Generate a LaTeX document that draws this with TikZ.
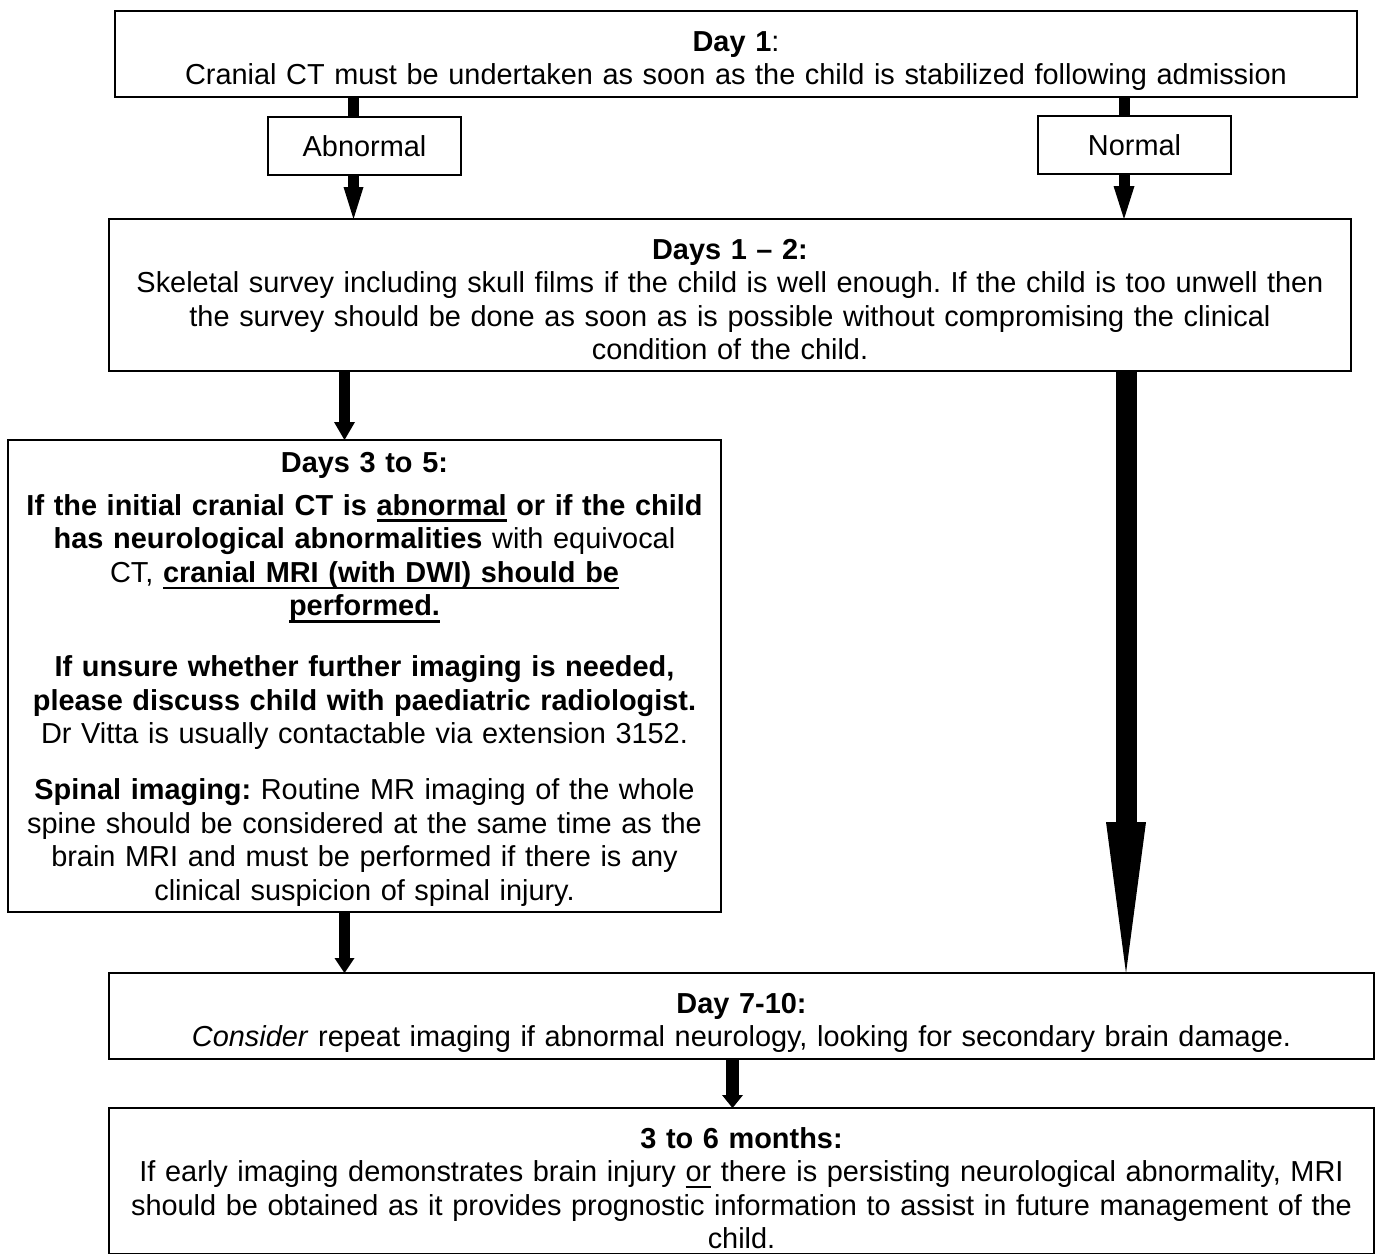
\documentclass[tikz,border=0pt]{standalone}
\usepackage{fontspec}
\setmainfont{Liberation Sans}
\usetikzlibrary{arrows.meta}
\frenchspacing

% thick underline as in the scanned protocol
\newcommand{\ulbar}[1]{\setbox0\hbox{#1}\rlap{\rule[-3.4pt]{\wd0}{1.2pt}}\box0\relax}

\begin{document}
\begin{tikzpicture}[
    x=0.5pt, y=-0.5pt,
    font=\fontsize{14.45pt}{16.8pt}\selectfont,
    stage/.style={
        rectangle,
        draw=black,
        line width=0.9pt,
        anchor=north west,
        outer sep=0pt,
        inner xsep=4pt,
        inner ysep=0pt,
        align=center,
        text height=20pt
    },
    outcome/.style={
        rectangle,
        draw=black,
        line width=0.9pt,
        minimum width=96.5pt,
        minimum height=29pt,
        inner sep=0pt,
        outer sep=0pt
    },
    bar/.style={line width=5.5pt},
    flow/.style n args={3}{
        line width=#1,
        -{Triangle[length=#2, width=#3, line width=0pt]}
    }
]

\fill[white] (0,0) rectangle (1375,1254);

% Day 1
\node[stage, text width=613pt, text depth=23pt] (day1) at (115,11) {%
    \textbf{Day 1}:\\
    Cranial CT must be undertaken as soon as the child is stabilized following admission%
};

% CT result
\node[outcome] (abn) at (364.5,146) {Abnormal};
\node[outcome] (norm) at (1134.5,145) {Normal};

% Days 1 - 2
\node[stage, text width=613pt, text depth=56pt] (survey) at (109,219) {%
    \textbf{Days 1 -- 2:}\\
    Skeletal survey including skull films if the child is well enough. If the child is too unwell then\\
    the survey should be done as soon as is possible without compromising the clinical\\
    condition of the child.%
};

% Days 3 to 5
\node[stage, text width=348.5pt, text height=16pt, text depth=220pt] (mri) at (8,440) {%
    \textbf{Days 3 to 5:}\\[4.7pt]
    \textbf{If the initial cranial CT is \ulbar{abnormal} or if the child}\\
    \textbf{has neurological abnormalities} with equivocal\\
    CT, \textbf{\ulbar{cranial MRI (with DWI) should be}}\\
    \textbf{\ulbar{performed.}}\\[13.6pt]
    \textbf{If unsure whether further imaging is needed,}\\
    \textbf{please discuss child with paediatric radiologist.}\\
    Dr Vitta is usually contactable via extension 3152.\\[11.1pt]
    \textbf{Spinal imaging:} Routine MR imaging of the whole\\
    spine should be considered at the same time as the\\
    brain MRI and must be performed if there is any\\
    clinical suspicion of spinal injury.%
};

% Day 7-10
\node[stage, text width=624.5pt, text depth=23pt] (review) at (109,973) {%
    \textbf{Day 7-10:}\\
    \textit{Consider} repeat imaging if abnormal neurology, looking for secondary brain damage.%
};

% 3 to 6 months
\node[stage, text width=624.5pt, text depth=52.75pt] (followup) at (109,1108) {%
    \textbf{3 to 6 months:}\\
    If early imaging demonstrates brain injury \ulbar{or} there is persisting neurological abnormality, MRI\\
    should be obtained as it provides prognostic information to assist in future management of the\\
    child.%
};

% arrow columns
\coordinate (xa) at (353.5,0);
\coordinate (xn) at (1124,0);
\coordinate (xl) at (344.5,0);
\coordinate (xr) at (1126,0);
\coordinate (xm) at (732.5,0);

% block arrows
\draw[bar] (day1.south -| xa) -- (abn.north -| xa);
\draw[flow={5.5pt}{16pt}{10pt}] (abn.south -| xa) -- (survey.north -| xa);
\draw[bar] (day1.south -| xn) -- (norm.north -| xn);
\draw[flow={5.5pt}{16.5pt}{10.5pt}] (norm.south -| xn) -- (survey.north -| xn);
\draw[flow={5.5pt}{9pt}{10.5pt}] (survey.south -| xl) -- (mri.north -| xl);
\draw[flow={10.5pt}{75.5pt}{20pt}] (survey.south -| xr) -- (review.north -| xr);
\draw[flow={5.5pt}{7.5pt}{10pt}] (mri.south -| xl) -- (review.north -| xl);
\draw[flow={6.5pt}{6.5pt}{10.5pt}] (review.south -| xm) -- (followup.north -| xm);

\end{tikzpicture}
\end{document}
